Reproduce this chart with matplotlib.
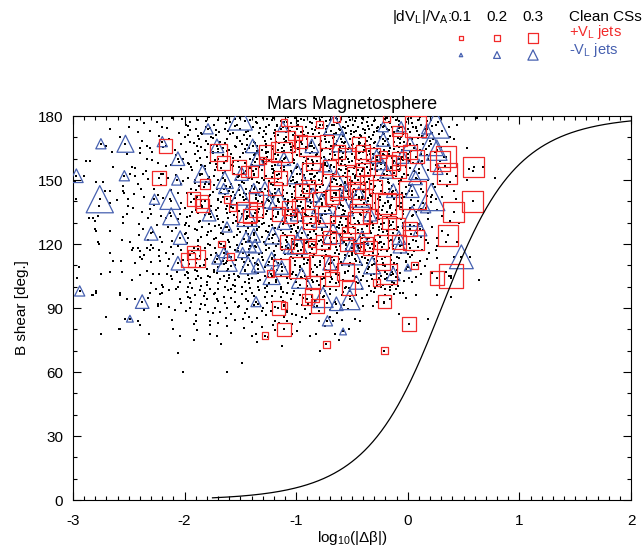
import numpy as np
import matplotlib.pyplot as plt
from matplotlib.ticker import MultipleLocator

plt.rcParams['font.family'] = ['Liberation Sans', 'DejaVu Sans']
plt.rcParams['mathtext.fontset'] = 'custom'
plt.rcParams['mathtext.rm'] = 'Liberation Sans'
plt.rcParams['mathtext.it'] = 'Liberation Sans'
plt.rcParams['axes.unicode_minus'] = False

# clean current sheets: B shear (deg) -> list of log10|dbeta|
cs_rows = {
    180: [-1.93, -1.47, -1.15, -0.97, -0.72, -0.60, -0.33, -0.26, -0.05, 0.16],
    179.5: [-1.78, -1.36, -1.07, -0.77, -0.53, -0.36, -0.13, 0.11],
    179: [-2.11, -1.62, -1.30, -1.21, -1.01, -0.84, -0.64, -0.46, -0.41, -0.19, 0.03, 0.30, 0.62],
    178.5: [-2.02, -1.55, -1.26, -0.96, -0.82, -0.63, -0.40, -0.21, 0.00],
    178: [-2.43, -1.88, -1.70, -1.41, -1.22, -0.93, -0.79, -0.70, -0.52, -0.29, -0.11, 0.09, 0.21],
    177.5: [-1.81, -1.46, -1.14, -0.98, -0.73, -0.47, -0.30, -0.08, 0.17],
    177: [-2.25, -1.95, -1.59, -1.36, -1.08, -0.88, -0.61, -0.55, -0.37, -0.17, -0.02, 0.27],
    176.5: [-2.36, -1.63, -1.35, -1.05, -0.86, -0.63, -0.41, -0.16, 0.04],
    176: [-1.99, -1.74, -1.53, -1.24, -1.17, -0.98, -0.76, -0.68, -0.49, -0.32, -0.24, -0.08, 0.12, 0.44],
    175.5: [-1.97, -1.55, -1.17, -0.99, -0.72, -0.54, -0.36, -0.21, 0.22],
    175: [-2.50, -2.20, -1.81, -1.39, -1.27, -1.04, -0.91, -0.82, -0.58, -0.45, -0.27, -0.14, 0.05, 0.37],
    174.5: [-2.16, -1.77, -1.32, -1.07, -0.80, -0.56, -0.28, -0.08, 0.07],
    174: [-2.67, -1.90, -1.64, -1.50, -1.14, -0.99, -0.86, -0.73, -0.62, -0.40, -0.35, -0.19, 0.00, 0.15],
    173.5: [-1.95, -1.72, -1.19, -0.83, -0.61, -0.38, -0.17, 0.16],
    173: [-2.31, -1.61, -1.43, -1.29, -1.06, -0.94, -0.69, -0.51, -0.46, -0.28, -0.09, 0.08, 0.31],
    172.5: [-2.42, -1.69, -1.45, -1.09, -0.96, -0.73, -0.48, -0.30, -0.12, 0.02],
    172: [-2.05, -1.85, -1.57, -1.33, -1.20, -0.89, -0.80, -0.64, -0.55, -0.38, -0.22, -0.04, 0.22],
    171.5: [-1.84, -1.59, -1.27, -0.85, -0.66, -0.51, -0.21, -0.04, 0.28],
    171: [-1.97, -1.72, -1.47, -1.16, -1.03, -0.93, -0.75, -0.57, -0.43, -0.31, -0.13, 0.10, 0.17],
    170.5: [-2.23, -1.88, -1.41, -1.19, -0.91, -0.74, -0.58, -0.42, -0.16, 0.13],
    170: [-2.58, -2.00, -1.76, -1.53, -1.30, -1.09, -0.98, -0.83, -0.66, -0.48, -0.35, -0.25, -0.06, 0.38],
    169.5: [-1.75, -1.53, -1.01, -0.83, -0.67, -0.44, -0.25, -0.09, 0.09],
    169: [-2.14, -1.87, -1.62, -1.44, -1.23, -1.11, -0.90, -0.74, -0.60, -0.52, -0.33, -0.18, 0.04, 0.23, 0.41],
    168.5: [-2.38, -1.81, -1.50, -1.28, -1.09, -0.78, -0.63, -0.37, -0.20, 0.20],
    168: [-1.95, -1.68, -1.38, -1.18, -1.00, -0.87, -0.71, -0.56, -0.44, -0.29, -0.12, -0.03, 0.35],
    167.5: [-1.92, -1.64, -1.37, -1.15, -0.87, -0.57, -0.43, -0.30, -0.07],
    167: [-2.03, -1.79, -1.49, -1.27, -1.06, -0.95, -0.79, -0.65, -0.49, -0.38, -0.22, 0.02, 0.14],
    166.5: [-1.76, -1.44, -1.11, -0.80, -0.64, -0.50, -0.34, -0.18, 0.08],
    166: [-2.70, -2.34, -1.89, -1.55, -1.35, -1.21, -1.02, -0.88, -0.69, -0.58, -0.40, -0.27, -0.10, 0.19],
    165.5: [-2.19, -1.85, -1.54, -1.27, -1.05, -0.91, -0.61, -0.38, -0.08, 0.30],
    165: [-2.40, -2.31, -1.66, -1.42, -1.13, -0.98, -0.84, -0.73, -0.53, -0.46, -0.30, -0.16, 0.06, 0.53],
    164.5: [-1.70, -1.46, -1.22, -0.98, -0.70, -0.54, -0.28, -0.12, 0.16],
    164: [-2.09, -1.82, -1.60, -1.31, -1.16, -1.05, -0.91, -0.77, -0.62, -0.39, -0.21, -0.05, 0.11],
    163.5: [-1.88, -1.62, -1.35, -1.11, -0.78, -0.60, -0.35, -0.17, 0.03],
    163: [-2.65, -2.29, -1.99, -1.75, -1.45, -1.25, -1.01, -0.86, -0.66, -0.55, -0.43, -0.25, -0.09, 0.24],
    162.5: [-2.40, -1.75, -1.48, -1.27, -1.04, -0.88, -0.58, -0.44, -0.26, -0.07],
    162: [-2.52, -1.91, -1.58, -1.37, -1.19, -0.96, -0.81, -0.70, -0.50, -0.34, -0.17, 0.00, 0.12],
    161.5: [-2.08, -1.66, -1.38, -1.16, -0.99, -0.82, -0.65, -0.37, -0.21, 0.17],
    161: [-1.80, -1.50, -1.26, -1.09, -0.93, -0.75, -0.59, -0.47, -0.28, -0.14, 0.07, 0.32],
    160.5: [-1.86, -1.57, -1.29, -1.10, -0.78, -0.61, -0.47, -0.31, -0.14, 0.00],
    160: [-2.34, -2.01, -1.70, -1.41, -1.18, -1.03, -0.89, -0.68, -0.54, -0.42, -0.23, -0.06, 0.18],
    159.5: [-2.29, -1.73, -1.39, -1.02, -0.86, -0.71, -0.44, -0.28, -0.04],
    159: [-2.88, -2.85, -1.89, -1.63, -1.52, -1.24, -1.13, -0.91, -0.81, -0.59, -0.50, -0.36, -0.12, 0.01, 0.13],
    158.5: [-2.05, -1.57, -1.37, -1.14, -0.85, -0.53, -0.33, -0.13, 0.09],
    158: [-2.24, -1.97, -1.77, -1.46, -1.29, -1.02, -0.94, -0.74, -0.63, -0.41, -0.26, -0.20, 0.05],
    157.5: [-1.96, -1.72, -1.28, -0.94, -0.77, -0.60, -0.38, -0.24, 0.13],
    157: [-2.12, -1.85, -1.58, -1.40, -1.19, -1.07, -0.85, -0.69, -0.56, -0.44, -0.31, -0.09, 0.25],
    156.5: [-2.17, -1.82, -1.57, -1.22, -0.89, -0.72, -0.55, -0.28, -0.09, 0.33],
    156: [-2.64, -2.47, -1.94, -1.71, -1.33, -1.11, -0.99, -0.78, -0.66, -0.47, -0.37, -0.15, -0.02, 0.67],
    155.5: [-2.44, -1.67, -1.41, -1.14, -1.00, -0.70, -0.48, -0.15, 0.02],
    155: [-2.03, -1.82, -1.49, -1.36, -1.22, -0.95, -0.86, -0.62, -0.55, -0.32, -0.24, -0.07, 0.10, 0.55],
    154.5: [-1.93, -1.73, -1.31, -1.11, -0.79, -0.60, -0.45, -0.34, -0.09, 0.18],
    154: [-2.35, -1.64, -1.45, -1.20, -1.05, -0.90, -0.71, -0.53, -0.41, -0.28, -0.16, 0.06, 0.58],
    153.5: [-1.66, -1.47, -1.21, -1.04, -0.81, -0.56, -0.36, -0.12, 0.10],
    153: [-2.49, -2.37, -2.21, -2.19, -1.86, -1.56, -1.38, -1.15, -0.97, -0.88, -0.67, -0.49, -0.43, -0.21, -0.03],
    152.5: [-2.08, -1.86, -1.38, -1.17, -0.93, -0.67, -0.46, -0.19, 0.00],
    152: [-2.90, -2.44, -1.74, -1.51, -1.27, -1.08, -0.83, -0.76, -0.58, -0.35, -0.30, -0.11, 0.43],
    151.5: [-1.78, -1.52, -1.22, -1.03, -0.84, -0.55, -0.39, -0.30, -0.05],
    151: [-2.15, -1.97, -1.66, -1.42, -1.31, -1.14, -0.92, -0.73, -0.61, -0.47, -0.22, -0.13, 0.07, 0.78],
    150.5: [-2.33, -1.79, -1.40, -1.16, -0.87, -0.66, -0.35, -0.18, 0.08],
    150: [-1.91, -1.70, -1.54, -1.29, -1.03, -0.95, -0.80, -0.52, -0.45, -0.27, -0.06, 0.18, 0.53],
    149.5: [-2.01, -1.64, -1.24, -1.05, -0.77, -0.50, -0.25, -0.08, 0.29],
    149: [-2.98, -2.79, -2.73, -1.81, -1.49, -1.35, -1.17, -0.99, -0.86, -0.68, -0.56, -0.39, -0.18, 0.38],
    148.5: [-1.91, -1.47, -1.33, -1.01, -0.83, -0.56, -0.47, -0.17, 0.12],
    148: [-2.42, -2.03, -1.78, -1.58, -1.23, -1.12, -0.90, -0.77, -0.63, -0.42, -0.33, -0.08, 0.23],
    147.5: [-2.21, -1.74, -1.51, -1.21, -0.89, -0.76, -0.60, -0.39, -0.23, 0.01],
    147: [-2.55, -1.87, -1.63, -1.40, -1.06, -0.97, -0.82, -0.70, -0.51, -0.29, -0.14, 0.03, 0.35],
    146.5: [-1.83, -1.59, -1.37, -1.02, -0.79, -0.54, -0.30, -0.02, 0.24],
    146: [-2.39, -2.27, -1.94, -1.71, -1.45, -1.32, -1.15, -0.93, -0.87, -0.61, -0.48, -0.36, -0.17, 0.12],
    145.5: [-2.12, -1.90, -1.51, -1.12, -0.81, -0.62, -0.46, -0.31, -0.11],
    145: [-2.71, -2.67, -2.55, -1.60, -1.41, -1.25, -1.01, -0.90, -0.72, -0.54, -0.40, -0.24, 0.01, 0.41],
    144.5: [-1.75, -1.57, -1.31, -0.94, -0.75, -0.49, -0.39, -0.14, 0.14],
    144: [-2.54, -2.06, -1.98, -1.67, -1.47, -1.19, -1.08, -0.81, -0.66, -0.59, -0.31, -0.20, -0.05],
    143.5: [-2.45, -1.94, -1.64, -1.45, -1.22, -1.04, -0.85, -0.54, -0.23, -0.02],
    143: [-2.24, -1.77, -1.55, -1.36, -1.13, -0.96, -0.75, -0.64, -0.46, -0.34, -0.10, 0.22],
    142.5: [-1.78, -1.58, -1.32, -1.12, -0.93, -0.76, -0.60, -0.33, -0.14, 0.17],
    142: [-2.36, -1.89, -1.66, -1.48, -1.21, -1.04, -0.85, -0.69, -0.52, -0.41, -0.25, -0.03, 0.31],
    141.5: [-2.19, -1.90, -1.55, -1.36, -1.01, -0.68, -0.50, -0.36, -0.05],
    141: [-2.97, -2.51, -1.70, -1.45, -1.26, -1.10, -0.91, -0.78, -0.57, -0.44, -0.27, -0.12, 0.25, 0.43],
    140.5: [-2.61, -1.70, -1.47, -1.25, -1.07, -0.88, -0.55, -0.42, -0.25, 0.03],
    140: [-2.12, -1.82, -1.58, -1.34, -1.16, -0.99, -0.80, -0.67, -0.50, -0.36, -0.18, 0.09],
    139.5: [-1.94, -1.67, -1.31, -1.15, -0.96, -0.82, -0.51, -0.18, 0.21],
    139: [-2.67, -2.03, -1.53, -1.39, -1.23, -1.07, -0.87, -0.73, -0.61, -0.39, -0.29, -0.06, 0.14],
    138.5: [-2.27, -1.85, -1.53, -1.30, -1.08, -0.77, -0.60, -0.37, -0.15, 0.06],
    138: [-2.77, -2.51, -1.76, -1.62, -1.44, -1.18, -0.97, -0.89, -0.68, -0.53, -0.46, -0.22, -0.09],
    137.5: [-1.84, -1.58, -1.41, -1.04, -0.88, -0.70, -0.41, -0.26, -0.06],
    137: [-2.46, -2.00, -1.70, -1.28, -1.14, -0.94, -0.80, -0.62, -0.49, -0.32, -0.16, 0.02],
    136.5: [-2.31, -2.04, -1.63, -1.33, -1.14, -0.95, -0.64, -0.49, -0.32, 0.12],
    136: [-1.90, -1.72, -1.47, -1.21, -1.02, -0.84, -0.71, -0.58, -0.40, -0.23, -0.11, 0.26],
    135.5: [-1.76, -1.51, -1.26, -1.07, -0.74, -0.56, -0.28, -0.04],
    135: [-2.38, -1.93, -1.59, -1.34, -1.16, -0.98, -0.83, -0.65, -0.50, -0.37, -0.19, 0.07],
    134.5: [-2.13, -1.88, -1.62, -1.37, -1.16, -0.83, -0.65, -0.49, -0.14, 0.18],
    134: [-2.52, -2.30, -2.04, -1.77, -1.49, -1.27, -1.05, -0.92, -0.74, -0.57, -0.43, -0.26, -0.04],
    133.5: [-1.82, -1.56, -1.30, -1.08, -0.91, -0.77, -0.59, -0.42, -0.24, 0.05],
    133: [-2.78, -2.21, -1.95, -1.71, -1.39, -1.21, -0.99, -0.86, -0.69, -0.52, -0.33, -0.15, 0.31],
    132.5: [-2.55, -1.98, -1.76, -1.53, -1.18, -1.01, -0.69, -0.38, -0.19],
    132: [-2.86, -2.82, -2.33, -2.17, -1.61, -1.44, -1.30, -1.09, -0.95, -0.78, -0.60, -0.48, -0.28, -0.10],
    131.5: [-2.06, -1.70, -1.45, -1.23, -1.05, -0.87, -0.55, -0.26, -0.06, 0.18],
    131: [-2.80, -1.86, -1.54, -1.33, -1.13, -0.96, -0.81, -0.66, -0.45, -0.36, -0.17, 0.38],
    130.5: [-1.87, -1.66, -1.40, -0.98, -0.69, -0.61, -0.32, -0.13],
    130: [-2.55, -1.99, -1.57, -1.29, -1.11, -0.87, -0.79, -0.53, -0.44, -0.21, -0.04, 0.46],
    129.5: [-2.41, -1.78, -1.52, -1.31, -1.12, -0.80, -0.47, -0.24, 0.10],
    129: [-2.25, -2.00, -1.69, -1.40, -1.22, -1.02, -0.90, -0.67, -0.59, -0.31, -0.15, 0.02],
    128.5: [-1.96, -1.73, -1.47, -1.24, -1.05, -0.86, -0.55, -0.37, -0.17, 0.06],
    128: [-2.15, -1.84, -1.64, -1.33, -1.15, -0.98, -0.72, -0.63, -0.49, -0.26, -0.09, 0.22],
    127.5: [-2.08, -1.67, -1.43, -1.19, -0.98, -0.62, -0.48, -0.31, -0.04],
    127: [-2.80, -2.37, -1.91, -1.52, -1.35, -1.04, -0.93, -0.77, -0.54, -0.41, -0.23, -0.12],
    126.5: [-1.89, -1.60, -1.35, -1.14, -0.77, -0.45, -0.26, -0.10, 0.14],
    126: [-2.79, -2.67, -2.11, -1.76, -1.45, -1.27, -1.00, -0.84, -0.69, -0.57, -0.34, -0.19, 0.31],
    125.5: [-2.28, -1.79, -1.50, -1.25, -1.05, -0.88, -0.56, -0.40, -0.22],
    125: [-1.99, -1.67, -1.38, -1.12, -0.99, -0.76, -0.65, -0.45, -0.33, -0.13, 0.08],
    124.5: [-2.00, -1.66, -1.43, -1.19, -0.82, -0.69, -0.51, -0.18, 0.03],
    124: [-2.41, -1.80, -1.53, -1.24, -1.10, -0.89, -0.72, -0.61, -0.40, -0.27, -0.07],
    123.5: [-2.22, -1.85, -1.56, -1.31, -1.08, -0.76, -0.59, -0.43, -0.25, 0.12],
    123: [-1.97, -1.72, -1.41, -1.22, -0.96, -0.87, -0.66, -0.50, -0.35, -0.18, 0.26],
    122.5: [-1.74, -1.47, -1.24, -1.04, -0.88, -0.53, -0.37, -0.08],
    122: [-2.56, -2.33, -1.88, -1.61, -1.36, -1.09, -0.98, -0.78, -0.59, -0.48, -0.29, -0.15, 0.16],
    121.5: [-2.11, -1.88, -1.42, -1.15, -0.80, -0.63, -0.46, -0.17, 0.07],
    121: [-2.78, -2.49, -2.20, -1.60, -1.29, -1.04, -0.90, -0.69, -0.57, -0.38, -0.25, -0.03, 0.34, 0.44],
    120.5: [-1.98, -1.69, -1.35, -1.21, -0.91, -0.75, -0.41, -0.26, 0.18],
    120: [-2.77, -1.79, -1.49, -1.16, -1.03, -0.81, -0.70, -0.50, -0.32, -0.21, 0.01],
    119.5: [-2.30, -1.77, -1.53, -1.27, -1.01, -0.84, -0.55, -0.36, -0.05],
    119: [-2.06, -1.88, -1.65, -1.41, -1.18, -1.09, -0.93, -0.77, -0.61, -0.45, -0.29, -0.13, 0.26],
    118.5: [-2.12, -1.59, -1.36, -1.13, -0.94, -0.64, -0.42, -0.23, 0.09],
    118: [-2.46, -2.42, -2.34, -2.28, -1.92, -1.82, -1.73, -1.52, -1.24, -1.02, -0.86, -0.71, -0.50, -0.17, 0.02],
    117.5: [-1.88, -1.64, -1.42, -1.05, -0.86, -0.55, -0.31, -0.13],
    117: [-2.47, -2.31, -2.23, -2.03, -1.55, -1.27, -1.13, -0.96, -0.77, -0.63, -0.38, -0.24, 0.13, 0.25],
    116.5: [-2.40, -1.93, -1.52, -1.20, -0.98, -0.74, -0.43, -0.19, 0.06],
    116: [-2.67, -2.17, -1.72, -1.31, -1.05, -0.88, -0.65, -0.50, -0.31, -0.06, 0.19],
    115.5: [-2.10, -1.62, -1.33, -1.10, -0.84, -0.62, -0.46, -0.27, 0.00],
    115: [-2.36, -1.95, -1.76, -1.42, -1.19, -0.99, -0.73, -0.56, -0.35, -0.15, 0.04],
    114.5: [-2.23, -1.86, -1.70, -1.44, -1.20, -0.95, -0.77, -0.53, -0.31],
    114: [-2.40, -1.58, -1.31, -1.05, -0.85, -0.68, -0.41, -0.20, -0.10, 0.02, 0.41, 0.56],
    113.5: [-1.65, -1.39, -1.22, -1.03, -0.75, -0.56, -0.38, -0.08, 0.26],
    113: [-2.38, -2.14, -1.80, -1.49, -1.14, -0.93, -0.62, -0.47, -0.30, -0.23, 0.17],
    112.5: [-2.01, -1.82, -1.54, -1.30, -0.89, -0.66, -0.36, -0.15],
    112: [-2.64, -2.57, -2.22, -1.66, -1.41, -1.20, -1.01, -0.79, -0.46, -0.28, -0.02, 0.11],
    111.5: [-2.30, -1.73, -1.47, -1.24, -1.06, -0.79, -0.60, -0.43, -0.02],
    111: [-2.44, -1.90, -1.63, -1.37, -1.16, -0.90, -0.69, -0.52, -0.37, -0.12],
    110.5: [-1.96, -1.65, -1.35, -1.14, -0.93, -0.71, -0.49, -0.30, -0.10],
    110: [-1.83, -1.55, -1.25, -1.01, -0.83, -0.59, -0.41, -0.22, 0.08],
    109.5: [-2.15, -1.86, -1.58, -1.20, -0.97, -0.74, -0.53, -0.20, 0.15],
    109: [-2.95, -1.70, -1.48, -1.28, -1.10, -0.81, -0.63, -0.35, -0.13],
    108.5: [-1.80, -1.61, -1.34, -1.06, -0.87, -0.45, -0.36, -0.02],
    108: [-1.91, -1.74, -1.46, -1.17, -0.97, -0.73, -0.64, -0.27, -0.10],
    107.5: [-2.34, -1.89, -1.62, -1.46, -1.13, -0.94, -0.70, -0.54, -0.26],
    107: [-2.67, -2.56, -2.07, -1.98, -1.74, -1.37, -1.03, -0.85, -0.44, -0.20, -0.14, 0.34],
    106.5: [-1.97, -1.71, -1.34, -1.19, -0.88, -0.56, -0.37, -0.07, 0.22],
    106: [-2.75, -2.28, -2.23, -2.16, -1.56, -1.04, -0.76, -0.64, -0.30, 0.12],
    105.5: [-2.40, -2.00, -1.60, -1.43, -1.00, -0.81, -0.62, -0.33, -0.15],
    105: [-2.12, -1.88, -1.79, -1.65, -1.52, -1.28, -1.14, -0.92, -0.49, -0.40, -0.24, 0.37],
    104.5: [-1.77, -1.51, -1.25, -0.96, -0.69, -0.46, -0.11, 0.07],
    104: [-2.96, -1.97, -1.85, -1.60, -1.40, -1.08, -0.75, -0.26, -0.19, 0.01, 0.39],
    103.5: [-2.11, -1.90, -1.68, -1.42, -1.05, -0.91, -0.77, -0.32, -0.20],
    103: [-2.47, -1.55, -1.32, -1.18, -0.86, -0.58, -0.42, -0.08, 0.64],
    102.5: [-1.62, -1.34, -0.90, -0.81, -0.49, -0.37, -0.03],
    102: [-2.04, -1.80, -1.46, -1.18, -1.00, -0.70, -0.62, -0.14, 0.04],
    101.5: [-2.30, -1.95, -1.70, -1.42, -1.24, -1.07, -0.64, -0.45, -0.12],
    101: [-2.20, -1.80, -1.57, -0.97, -0.80, -0.28, -0.22, -0.14],
    100.5: [-1.85, -1.55, -1.26, -0.90, -0.75, -0.35, -0.09],
    100: [-2.19, -2.06, -1.97, -1.64, -1.49, -1.34, -1.14, -0.55, -0.24, -0.16],
    99.5: [-1.93, -1.41, -1.28, -0.98, -0.56, -0.29],
    99: [-2.26, -2.08, -1.77, -1.70, -1.58, -1.14, -0.70, -0.41, -0.20, -0.11],
    98.5: [-2.14, -1.86, -1.61, -1.33, -0.87, -0.64, -0.16],
    98: [-2.79, -1.45, -1.19, -1.02, -0.74, -0.52, -0.33],
    97.5: [-1.98, -1.55, -1.26, -1.12, -0.58, -0.30],
    97: [-2.79, -2.58, -2.31, -2.20, -1.82, -1.73, -1.40, -1.08, -0.79, -0.07, -0.04],
    96.5: [-2.22, -1.74, -1.49, -1.03, -0.70, -0.12],
    96: [-2.83, -2.82, -2.58, -1.91, -0.97, -0.59, -0.46, -0.37, -0.20, 0.07, 0.26],
    95.5: [-1.83, -1.38, -1.22, -0.75, -0.52],
    95: [-1.97, -1.65, -1.28, -1.14, -0.86, 0.39],
    94.5: [-2.33, -1.95, -1.58, -0.94, -0.41, -0.02],
    94: [-2.52, -2.44, -2.04, -1.80, -1.71, -1.45, -1.05, -0.16],
    93.5: [-1.70, -1.43, -1.12, -0.83, -0.50],
    93: [-1.94, -1.55, -1.22, -0.65, -0.28],
    92.5: [-2.03, -1.64, -1.26, -0.72, -0.21],
    92: [-2.24, -2.21, -1.85, -1.34, -0.99, -0.89],
    91.5: [-1.82, -1.38, -1.11, -0.95, -0.57],
    91: [-2.24, -1.51, -0.81, -0.40, -0.31],
    90.5: [-2.14, -1.52, -1.19, -0.84],
    90: [-1.95, -1.73, -1.62, -1.30],
    89.5: [-1.86, -1.44, -0.92, -0.54],
    89: [-2.36, -2.09, -1.08, -0.70],
    88.5: [-1.99, -1.31, -1.23, -0.80],
    88: [-1.79, -1.68, -1.08],
    87.5: [-1.75, -1.46, -0.63],
    87: [-1.58, -1.04, -0.88, -0.08],
    86.5: [-1.90, -1.27, -1.00],
    86: [-2.70, -2.23, -1.42, -1.11, -0.95, -0.70],
    85.5: [-1.63, -1.35, -0.91],
    85: [-2.53, -1.48, -0.47, 0.18],
    84.5: [-2.11, -1.55, -0.59],
    84: [-2.42, -1.90, -1.77, -1.19, -1.08, -0.80, -0.67, -0.43],
    83.5: [-1.40, -0.97],
    83: [-1.70, -1.15],
    82.5: [-1.92, -1.04],
    82: [-2.40, -1.77, -1.21],
    81.5: [-1.62, -0.74],
    81: [-1.31],
    80.5: [-1.47],
    80: [-2.59, -2.58, -2.10, -0.53],
    79.5: [-1.89, -1.19],
    79: [-0.99],
    78.5: [-1.58],
    78: [-2.75, -2.32, -1.77, -1.36, -1.04, -0.82, -0.65],
    77: [-2.04, -1.71, -1.40, -0.88],
    76.5: [-1.25],
    75: [-1.92, -0.62],
    74: [-1.35],
    73: [-1.67],
    72: [-1.13],
    70: [-0.79],
    69: [-2.06],
    64: [-1.49],
    60: [-2.01, -1.62],
}

# +V_L jets: log10|dbeta|, B shear, |dV_L|/V_A
pos_x = [-2.17, -2.23, -1.70, -1.65, -1.82, -1.51, -1.45, -1.39, -1.27, -1.30, -1.21, -1.19,
         -1.92, -1.85, -1.84, -1.62, -1.57, -1.36, -1.44, -1.36, -1.42, -1.16, -1.67,
         -1.11, -0.79, -0.64, -1.01, -1.10, -0.96, -0.88, -0.73, -0.44, -1.13, -0.62, -0.55,
         -0.40, -0.31, -0.85, -0.70, -0.40, -0.47, -0.86, -1.14, -0.37, -0.29, -0.95, -0.89,
         -0.61, -0.46, -0.64, -0.68, -0.79, -0.41, -0.98, -1.07, -0.89, -0.73, -0.43, -0.34,
         -1.05, -0.88, -0.62, -0.44, -0.70, -0.53, -0.55, -0.86, -0.76, -0.37, -1.08,
         -0.19, 0.07, -0.10, -0.07, 0.02, 0.08, -0.22, 0.34, 0.29, 0.59, -0.08, -0.20, -0.13,
         -0.08, 0.35, 0.04, -0.16, -0.20, 0.58, 0.41, -0.17, -0.10, 0.02, 0.36, 0.05, -0.24, -0.08,
         -1.97, -1.89, -1.92, -1.59, -1.23, -1.28,
         -0.99, -0.88, -0.44, -0.34, -1.13, -0.97, -0.79, -0.69, -0.56, -0.68, -0.85, -0.53,
         -0.28, -0.86, -0.90, -0.81, -1.16, -1.11, -1.11, -0.73,
         -0.22, -0.19, 0.06, 0.26, 0.39, -0.21, 0.01, -0.21]
pos_y = [166, 151, 163, 158, 148, 156, 154, 154, 163, 159, 155, 146,
         141, 140, 138, 141, 137, 141, 135, 136, 133, 134, 120,
         177, 176, 179, 172, 168, 168, 166, 168, 167, 163, 163, 161,
         163, 162, 158, 156, 155, 152, 153, 151, 149, 147, 145, 147,
         147, 145, 144, 142, 141, 141, 138, 137, 133, 134, 134, 133,
         133, 130, 129, 130, 123, 125, 120, 120, 121, 120, 121,
         179, 175, 173, 169, 163, 161, 162, 161, 159, 156, 160, 157, 158,
         154, 153, 143, 138, 139, 140, 135, 130, 128, 127, 124, 122, 121, 121,
         112.5, 113, 116, 114, 106, 77,
         119, 119, 118, 118, 109, 109, 110, 111, 107, 103.5, 102, 99.5,
         102, 96, 94, 91, 90, 91, 80, 73,
         111, 106, 110, 104, 105, 93, 82.5, 70]
pos_v = [0.4, 0.4, 0.5, 0.4, 0.3, 0.4, 0.3, 0.3, 0.4, 0.2, 0.5, 0.4,
         0.4, 0.4, 0.4, 0.2, 0.2, 0.4, 0.6, 0.4, 0.4, 0.4, 0.2,
         0.2, 0.2, 0.2, 0.4, 0.6, 0.4, 0.6, 0.4, 0.4, 0.6, 0.4, 0.5,
         0.4, 0.4, 0.4, 0.4, 0.4, 0.5, 0.6, 0.4, 0.4, 0.4, 0.4, 0.4,
         0.6, 0.5, 0.4, 0.4, 0.4, 0.6, 0.4, 0.4, 0.4, 0.5, 0.6, 0.4,
         0.4, 0.4, 0.5, 0.6, 0.4, 0.4, 0.4, 0.2, 0.4, 0.4, 0.4,
         0.2, 0.6, 0.3, 0.4, 0.4, 0.4, 0.2, 0.6, 0.6, 0.6, 0.4, 0.6, 0.4,
         0.4, 0.6, 0.8, 0.7, 0.6, 0.6, 0.6, 0.4, 0.5, 0.4, 0.6, 0.6, 0.4, 0.4,
         0.4, 0.5, 0.4, 0.2, 0.2, 0.2,
         0.4, 0.4, 0.3, 0.4, 0.5, 0.6, 0.6, 0.4, 0.5, 0.4, 0.4, 0.4,
         0.2, 0.4, 0.3, 0.4, 0.4, 0.2, 0.4, 0.2,
         0.4, 0.6, 0.2, 0.4, 0.7, 0.4, 0.4, 0.2]

# -V_L jets
neg_x = [-2.97, -2.94, -2.75, -2.53, -2.76, -2.54, -2.30, -2.27, -2.20, -2.13, -2.12,
         -1.50, -1.79, -1.71, -2.06, -1.39, -1.84, -1.64, -2.07, -1.65, -1.49, -1.35, -1.50,
         -1.38, -1.28, -1.78, -1.24, -1.44, -1.62, -1.45, -1.38, -1.21, -2.04,
         -0.66, -1.12, -0.59, -0.86, -1.11, -0.99, -0.74, -0.28, -0.64, -0.85, -0.55, -1.16,
         -0.77, -0.44, -0.99, -0.58, -0.79, -1.11, -0.34, -0.95, -0.67, -0.41, -0.50, -0.99,
         0.25, -0.22, -0.06, 0.17, -0.22, 0.21, 0.02, 0.26, -0.05, -0.24, 0.10, 0.27, -0.19,
         0.07, 0.21, -0.13, 0.04, 0.16, 0.04, 0.11, -0.08, -0.07,
         -2.38, -2.49,
         -2.06, -1.71, -1.62, -1.65, -1.43, -1.34, -1.48, -1.37, -1.22, -1.22, -1.36,
         -1.07, -0.50, -0.32, -0.70, -0.95, -1.13, -0.46, -0.76, -0.64, -0.52, -0.72, -0.58,
         0.48, -0.13, 0.00]
neg_y = [152, 98, 167, 167, 141, 152, 125, 141, 168, 141, 133,
         179, 174, 166, 160, 166, 153, 150, 150, 146, 153, 160, 143,
         146, 146, 134, 140, 133, 128, 121, 124, 124, 123,
         176, 175, 168, 166, 160, 153, 157, 161, 150, 143, 145, 141,
         139, 142, 134, 138, 131, 130, 134, 125, 125, 123, 120, 120,
         176, 175, 175, 174, 169, 167, 167, 164, 161, 158, 155, 155, 154,
         151, 142, 145, 145, 137, 133, 127, 123, 119,
         93, 85,
         111, 113, 112, 116, 110, 110, 116, 119, 113, 105, 93,
         118, 115, 110, 111, 104, 109, 102, 95, 92, 94, 84, 79,
         114, 106, 109]
neg_v = [0.4, 0.3, 0.3, 0.5, 0.8, 0.3, 0.4, 0.3, 0.3, 0.6, 0.5,
         0.7, 0.3, 0.4, 0.4, 0.4, 0.5, 0.5, 0.3, 0.3, 0.4, 0.4, 0.6,
         0.3, 0.4, 0.4, 0.4, 0.6, 0.3, 0.6, 0.4, 0.5, 0.4,
         0.6, 0.3, 0.6, 0.4, 0.4, 0.6, 0.4, 0.4, 0.6, 0.4, 0.4, 0.6,
         0.6, 0.6, 0.4, 0.6, 0.4, 0.4, 0.4, 0.4, 0.6, 0.4, 0.4, 0.6,
         0.8, 0.3, 0.3, 0.3, 0.4, 0.7, 0.4, 0.6, 0.4, 0.4, 0.6, 0.3, 0.4,
         0.4, 0.8, 0.4, 0.4, 0.3, 0.6, 0.4, 0.4, 0.4,
         0.4, 0.2,
         0.4, 0.3, 0.6, 0.3, 0.5, 0.4, 0.3, 0.4, 0.4, 0.5, 0.3,
         0.3, 0.6, 0.5, 0.4, 0.6, 0.4, 0.4, 0.6, 0.4, 0.6, 0.3, 0.2,
         0.7, 0.4, 0.2]

legend_v = [0.1, 0.2, 0.3]

RED = '#f22a2a'
BLUE = '#4660b0'
PX = 34.0      # marker width in pixels per unit of |dV_L|/V_A


def msize(v):
    return (np.asarray(v) * PX * 0.72) ** 2


cs_x = [x for y in cs_rows for x in cs_rows[y]]
cs_y = [y for y in cs_rows for x in cs_rows[y]]
# jets are clean CSs as well
cs_x = np.concatenate([cs_x, pos_x, neg_x])
cs_y = np.concatenate([cs_y, pos_y, neg_y])

fig = plt.figure(figsize=(6.44, 5.47), dpi=100)
ax = fig.add_axes([73 / 644, 47 / 547, 558 / 644, 384 / 547])

ax.scatter(cs_x, cs_y, s=1.8, marker='s', c='k', linewidths=0, zorder=2)
ax.scatter(neg_x, neg_y, s=msize(neg_v), marker='^', facecolors='none',
           edgecolors=BLUE, linewidths=0.9, zorder=3)
ax.scatter(pos_x, pos_y, s=msize(pos_v), marker='s', facecolors='none',
           edgecolors=RED, linewidths=0.9, zorder=4)

# reconnection suppression threshold, L = d_i
lb = np.linspace(-1.75, 2.0, 400)
ax.plot(lb, 2 * np.degrees(np.arctan(10 ** lb / 2)), color='k', lw=0.9, zorder=5)

ax.set_xlim(-3, 2)
ax.set_ylim(0, 180)
ax.xaxis.set_major_locator(MultipleLocator(1))
ax.xaxis.set_minor_locator(MultipleLocator(0.1))
ax.yaxis.set_major_locator(MultipleLocator(30))
ax.yaxis.set_minor_locator(MultipleLocator(10))
ax.tick_params(which='both', direction='in', top=True, right=True, width=0.8,
               labelsize=11)
ax.tick_params(which='major', length=6)
ax.tick_params(axis='x', which='major', pad=10)
ax.tick_params(axis='y', which='major', pad=7)
ax.tick_params(which='minor', length=3)
for sp in ax.spines.values():
    sp.set_linewidth(0.8)

ax.set_title('Mars Magnetosphere', fontsize=13, pad=5)
ax.set_xlabel(r'log$_{10}$(|Δβ|)', fontsize=11, labelpad=1)
ax.set_ylabel('B shear [deg.]', fontsize=11, labelpad=6)

# size key above the panel
fig.text(392 / 644, 1 - 17 / 547, r'|dV$_\mathrm{L}$|/V$_\mathrm{A}$:', fontsize=11,
         ha='left', va='center')
key_x = [461 / 644, 497 / 644, 533 / 644]
for kx, v in zip(key_x, legend_v):
    fig.text(kx, 1 - 17 / 547, f'{v:.1f}', fontsize=11, ha='center', va='center')
kax = fig.add_axes([0, 0, 1, 1])
kax.set_xlim(0, 1)
kax.set_ylim(0, 1)
kax.set_axis_off()
kax.scatter(key_x, [1 - 38 / 547] * 3, s=msize(legend_v), marker='s',
            facecolors='none', edgecolors=RED, linewidths=0.9)
kax.scatter(key_x, [1 - 55 / 547] * 3, s=msize(legend_v), marker='^',
            facecolors='none', edgecolors=BLUE, linewidths=0.9)
fig.text(569 / 644, 1 - 17 / 547, 'Clean CSs', fontsize=11, ha='left', va='center')
fig.text(569 / 644, 1 - 32 / 547, r'+V$_\mathrm{L}$ jets', fontsize=10.5, color=RED,
         ha='left', va='center')
fig.text(569 / 644, 1 - 50 / 547, r'-V$_\mathrm{L}$ jets', fontsize=10.5, color=BLUE,
         ha='left', va='center')

fig.savefig('out.png', dpi=100)
